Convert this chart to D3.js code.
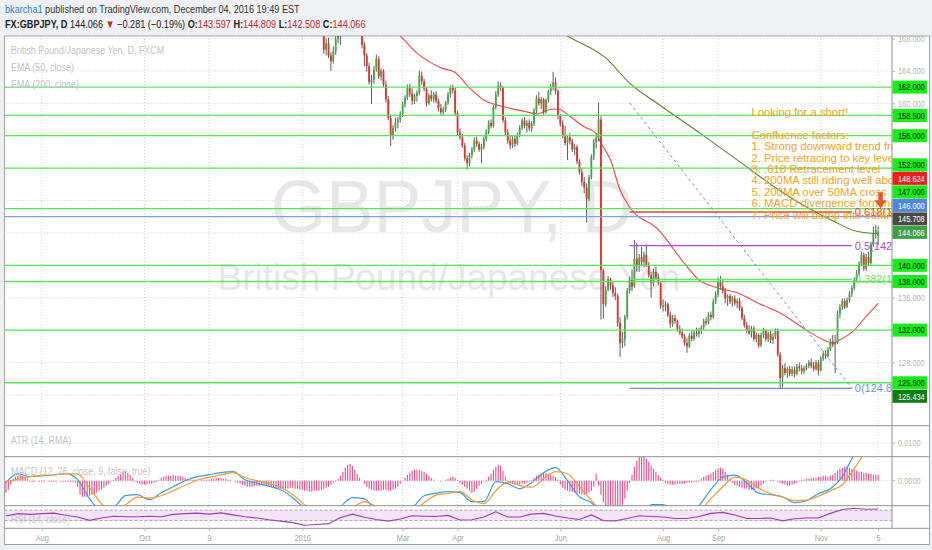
<!DOCTYPE html>
<html>
<head>
<meta charset="utf-8">
<script src="https://cdnjs.cloudflare.com/ajax/libs/d3/7.8.5/d3.min.js"></script>
<style>
  body { margin: 0; background: #eef0f4; }
  svg { display: block; }
  text { font-family: "Liberation Sans", Arial, sans-serif; white-space: pre; }
</style>
</head>
<body>
<svg id="chart" width="932" height="550"></svg>
<script>
// ---- data ----
// daily GBPJPY bars from 2016-01-13 to 2016-12-05
const candleStart = '2016-01-13';
const opens = [
  171.0,170.2,166.6,167.4,165.9,165.2,166.4,167.9,168.9,169.1,
  169.7,169.2,169.5,172.5,172.2,170.9,169.9,169.0,167.2,165.9,
  164.6,162.6,162.9,164.2,165.5,163.3,164.0,162.3,160.5,158.2,
  156.0,157.0,157.6,158.0,158.7,159.9,160.7,161.9,161.2,160.3,
  160.9,161.3,163.4,162.7,161.8,160.0,161.0,160.5,161.1,160.3,
  159.4,158.9,159.2,160.1,161.1,161.9,161.6,158.8,156.4,155.8,
  154.8,153.2,152.6,153.6,154.3,155.4,155.0,154.3,154.6,155.6,
  156.5,157.6,157.2,159.5,161.1,162.2,161.9,157.9,156.4,155.4,
  154.8,155.6,155.0,156.1,157.0,157.9,157.2,157.6,156.9,157.5,
  159.1,160.6,160.0,160.5,158.9,160.4,161.5,162.0,162.6,161.5,
  158.4,157.4,156.1,155.1,155.8,155.3,154.3,154.6,152.8,151.5,
  150.3,149.6,148.2,150.9,153.4,155.2,155.8,158.0,139.4,135.2,
  137.0,138.3,137.5,136.6,136.2,132.9,130.4,130.9,133.6,136.9,
  138.2,137.4,140.8,140.0,141.0,140.4,141.3,140.0,138.8,137.8,
  139.2,138.5,137.8,135.0,134.9,135.2,133.9,132.8,133.5,133.1,
  132.1,131.7,131.2,130.4,130.0,131.3,130.9,131.7,131.5,132.0,
  132.3,133.1,132.9,133.9,133.6,135.5,136.4,138.0,137.4,136.8,
  135.9,136.2,135.5,135.9,135.3,135.6,134.7,133.5,132.6,132.0,
  131.6,132.2,130.9,131.4,130.1,131.4,131.9,130.9,131.5,130.8,
  131.2,131.9,129.0,126.1,127.3,126.7,127.2,126.6,127.1,126.6,
  127.5,127.3,126.9,127.3,127.6,128.0,127.6,127.2,128.0,127.0,
  128.5,129.1,128.8,129.6,130.6,130.2,130.5,134.0,134.8,135.6,
  134.9,135.7,136.5,137.2,138.2,139.0,140.2,141.3,139.6,141.0,
  140.3,142.6,143.9,143.597
];
const highs = [
  171.5,170.6,168.0,168.1,166.3,167.0,168.3,169.5,169.8,170.1,
  170.3,170.0,173.5,173.2,172.4,171.2,170.4,169.3,167.6,166.2,
  165.0,163.5,164.6,166.0,165.8,164.3,164.2,162.8,160.9,158.6,
  157.3,158.2,158.3,159.0,160.2,161.0,162.3,162.4,161.8,161.2,
  161.6,164.0,163.9,163.0,162.0,161.2,161.6,161.4,161.5,160.6,
  159.9,159.6,160.3,161.4,162.2,162.3,161.9,159.1,156.9,156.2,
  155.1,153.6,153.9,154.6,155.8,155.9,155.3,155.0,155.9,156.8,
  157.9,158.0,159.8,161.5,162.7,162.6,162.1,158.3,156.8,156.1,
  155.9,156.0,156.4,157.3,158.2,158.3,157.9,158.0,157.8,159.4,
  161.0,161.4,160.8,160.7,160.6,161.7,162.4,163.9,163.2,161.7,
  158.7,157.9,157.2,156.1,156.3,155.6,155.0,154.9,153.1,152.0,
  150.9,150.1,151.2,153.7,155.6,156.2,160.1,158.4,139.6,137.4,
  138.7,138.5,138.0,137.3,136.5,133.6,131.8,133.9,137.2,138.6,
  139.5,143.1,142.8,141.4,142.3,141.7,142.6,140.4,139.2,139.6,
  139.8,139.0,138.1,135.8,135.6,135.4,134.3,133.9,133.9,133.3,
  132.6,132.2,131.5,131.0,131.6,131.9,132.0,132.3,132.3,132.6,
  133.4,133.6,134.2,134.3,135.9,136.8,138.5,138.7,138.2,137.2,
  136.4,136.5,136.2,136.3,135.9,136.0,135.0,133.9,133.0,132.6,
  132.5,132.5,131.7,131.6,131.7,132.3,132.1,131.8,131.9,131.6,
  132.2,132.2,129.3,127.7,127.9,127.5,127.6,127.5,127.5,127.8,
  128.0,127.7,127.6,127.9,128.3,128.5,128.1,128.3,128.3,128.8,
  129.4,129.5,129.9,130.9,131.4,131.4,134.4,135.2,135.9,135.9,
  136.0,136.8,137.5,138.5,139.4,140.5,141.7,141.6,141.4,141.7,
  142.9,144.8,145.0,144.809
];
const lows = [
  169.6,166.1,165.9,165.6,164.0,164.9,166.0,167.4,167.2,168.6,
  168.9,168.7,168.9,171.5,170.5,169.3,168.6,166.8,164.6,163.9,
  162.3,159.9,162.4,163.9,163.0,162.8,162.0,160.1,157.9,154.7,
  155.5,156.5,156.9,157.6,158.3,159.5,160.4,160.8,159.8,159.9,
  160.2,161.0,162.3,161.5,159.6,159.8,160.2,160.1,160.0,159.0,
  158.6,158.5,158.9,159.8,160.7,161.2,158.5,156.0,155.5,154.5,
  152.9,151.8,152.2,153.2,154.0,154.6,154.0,152.6,154.3,155.3,
  156.2,156.9,157.0,159.2,160.8,161.5,157.6,156.0,155.0,154.3,
  154.5,154.6,154.8,155.8,156.7,156.9,156.4,156.6,156.5,157.2,
  158.8,159.7,159.3,158.6,158.7,160.1,161.0,161.6,161.1,158.0,
  157.1,155.7,154.8,153.0,154.9,154.0,153.6,152.5,151.2,149.8,
  148.9,145.3,147.9,150.6,153.0,154.4,155.3,133.3,133.4,134.9,
  136.8,137.0,136.1,135.7,132.4,128.7,129.8,130.0,133.3,136.5,
  136.8,137.2,139.2,139.2,140.0,139.8,139.8,138.5,136.0,137.4,
  138.2,137.5,134.6,134.3,134.3,133.6,132.3,132.4,132.8,131.8,
  131.4,130.9,130.1,129.2,129.8,130.6,130.7,131.2,131.1,131.5,
  132.0,132.6,132.7,133.2,133.4,135.2,136.1,137.0,136.5,135.3,
  135.0,135.2,134.9,135.0,134.7,134.4,133.2,132.3,131.6,131.4,
  131.1,130.6,130.5,129.8,129.9,131.0,130.6,130.5,130.4,130.3,
  130.9,128.7,124.8,124.9,126.4,126.1,126.3,126.3,126.2,126.4,
  126.9,126.5,126.6,127.0,127.3,127.3,126.9,127.0,126.4,126.9,
  128.2,128.4,128.6,129.4,129.9,126.7,130.3,133.5,134.5,134.6,
  134.7,135.4,136.1,136.9,137.9,138.7,139.9,139.3,139.3,139.9,
  140.1,142.3,143.3,142.508
];
const closes = [
  170.2,166.6,167.4,165.9,165.2,166.4,167.9,168.9,169.1,169.7,
  169.2,169.5,172.5,172.2,170.9,169.9,169.0,167.2,165.9,164.6,
  162.6,162.9,164.2,165.5,163.3,164.0,162.3,160.5,158.2,156.0,
  157.0,157.6,158.0,158.7,159.9,160.7,161.9,161.2,160.3,160.9,
  161.3,163.4,162.7,161.8,160.0,161.0,160.5,161.1,160.3,159.4,
  158.9,159.2,160.1,161.1,161.9,161.6,158.8,156.4,155.8,154.8,
  153.2,152.6,153.6,154.3,155.4,155.0,154.3,154.6,155.6,156.5,
  157.6,157.2,159.5,161.1,162.2,161.9,157.9,156.4,155.4,154.8,
  155.6,155.0,156.1,157.0,157.9,157.2,157.6,156.9,157.5,159.1,
  160.6,160.0,160.5,158.9,160.4,161.5,162.0,162.6,161.5,158.4,
  157.4,156.1,155.1,155.8,155.3,154.3,154.6,152.8,151.5,150.3,
  149.6,148.2,150.9,153.4,155.2,155.8,158.0,139.4,135.2,137.0,
  138.3,137.5,136.6,136.2,132.9,130.4,130.9,133.6,136.9,138.2,
  137.4,140.8,140.0,141.0,140.4,141.3,140.0,138.8,137.8,139.2,
  138.5,137.8,135.0,134.9,135.2,133.9,132.8,133.5,133.1,132.1,
  131.7,131.2,130.4,130.0,131.3,130.9,131.7,131.5,132.0,132.3,
  133.1,132.9,133.9,133.6,135.5,136.4,138.0,137.4,136.8,135.9,
  136.2,135.5,135.9,135.3,135.6,134.7,133.5,132.6,132.0,131.6,
  132.2,130.9,131.4,130.1,131.4,131.9,130.9,131.5,130.8,131.2,
  131.9,129.0,126.1,127.3,126.7,127.2,126.6,127.1,126.6,127.5,
  127.3,126.9,127.3,127.6,128.0,127.6,127.2,128.0,127.0,128.5,
  129.1,128.8,129.6,130.6,130.2,130.5,134.0,134.8,135.6,134.9,
  135.7,136.5,137.2,138.2,139.0,140.2,141.3,139.6,141.0,140.3,
  142.6,143.9,144.347,144.066
];

// moving averages, sampled (bar number counted in trading days from 2016-01-01)
const ema50Bars = [38,41,48,58,64,70,76,84,93,98,105,108,112,118,123,125,129,133,137,149,160,166,174,183,191,200,211,218,222,225,231,236,241];
const ema50 = [169.0,168.3,166.2,164.4,163.8,161.9,160.4,159.6,159.0,158.7,159.3,159.2,158.4,157.1,156.3,155.1,153.0,149.3,147.2,144.4,140.2,138.2,137.2,136.5,135.3,134.1,132.0,130.8,130.4,130.8,132.0,133.7,135.3];
const ema200Bars = [105,111,127,137,150,167,183,197,211,222,232,241];
const ema200 = [169.4,168.3,165.6,162.5,159.7,156.2,152.8,149.8,147.2,145.5,144.2,143.9];

// indicator panes, starting 2015-07-13
const indicatorStart = '2015-07-13';
const macdHist = [
  -12,-9,-4,2,4,5,6,5,4,2,
  -1,-1,-1,0,-1,-1,-1,0,-1,-1,-1,-1,0,-1,-1,-1,-1,-1,-1,-2,
  -6,-14,-16,-16,-16,-15,-14,-13,-12,-10,-9,-7,-5,
  -3,-1,1,
  3,5,7,9,9,8,6,3,
  -1,-2,-3,-4,-4,-4,-3,-3,-2,-1,
  1,3,4,5,5,5,6,5,5,5,4,3,2,
  1,1,1,0,0,1,1,1,
  1,2,2,3,3,3,2,2,1,1,0,
  -1,-2,-3,-4,-5,-6,-6,-6,-5,-5,-5,-4,-4,-5,
  -5,-6,-7,-8,-8,-8,-9,-8,-8,-7,-7,-8,-8,-9,
  -9,-10,-10,-11,-11,-10,-10,-10,-9,-8,-7,-6,-4,-2,
  -1,2,5,9,13,16,17,15,11,7,
  3,0,-3,-6,
  -8,-9,-10,-10,-10,-10,-9,-9,-10,-10,-9,-8,-6,-3,
  0,3,6,8,10,11,11,11,10,9,7,5,3,1,
  0,0,-1,0,1,
  2,3,4,3,1,
  -2,-4,-6,-8,
  -10,-12,-11,-8,
  -5,-3,-1,1,
  4,7,11,14,16,15,10,
  4,-1,-2,-3,-4,-4,-4,-3,-3,-2,-1,
  1,3,5,6,7,8,8,7,6,5,4,
  1,-4,-7,-9,-10,-11,-11,-12,-12,-13,-14,-14,-13,-12,-10,-6,
  7,
  -5,-14,-22,-27,-30,-30,-30,-29,-28,-27,-24,-18,-10,
  -2,6,14,20,24,26,25,22,19,15,12,9,6,3,1,
  -2,-3,-4,-4,-4,-3,-3,-3,-3,-2,-2,-2,-1,-1,
  1,2,4,5,6,7,9,11,12,13,12,9,6,2,
  -2,-4,-5,-6,-7,-8,-8,-9,-9,-9,-8,-7,-5,-3,-1,
  0,1,1,0,-1,-2,-3,
  -4,-5,-5,-4,-3,-2,-1,
  1,1,2,2,3,3,3,4,4,5,5,4,5,6,
  8,10,12,13,14,14,13,12,11,10,9,
  9,8,8,7,7,6,6,6
];
// lines read every 5th bar
const lineStep = 5;
const macdLine = [-2,7,4,4.7,5.7,7,1,-18,-30,-27,-15,-14,-19,-12,-6,0,4,6,8,9,
  1,-2.5,-5.5,-9,-17,-28,-40,-38,-26,-17,-18,-32,-40,-38,-28,-15,-12.5,-11,-12,-21,
  -21,-1,-3,-8,-2,8,13,0,-16,-22,-35,-50,-55,-50,-24,-24,-32,-34,-25,-9,
  3.5,5.5,-2,-12.5,-14,-16,-22,-20,-13,-8,4,26,40,50];
const signalLine = [-1,1.5,4,5.3,6,7,6.5,-7,-23,-30,-24,-16.5,-17.5,-15,-10,-4.5,0.5,3.3,5.8,8,
  3,0,-3,-6.5,-14,-24,-33,-36,-33,-27,-21,-26,-33,-36,-32,-22,-14.5,-12.8,-11,-19,
  -23,-10,-1.5,-4.8,-6.5,2,9,7,-6,-20,-32,-42,-48,-45,-35,-25,-26,-32,-30,-18,
  -6,3.5,0.7,-7.5,-13,-16.5,-20,-19.5,-15.5,-10,-4,12,30,42];
const rsi = [48,57,54,57,59,51,44,31,40,47,45,45,47,45,54,57,59,55,60,52,
  45,40,33,28,22,12,15,18,42,55,43,34,28,36,49,47,46,50,32,33,
  44,64,44,44,55,58,48,40,34,52,30,29,38,49,46,44,38,38,46,58,
  62,52,38,38,40,29,37,40,40,58,73,78,74,75];

// drawings
const supportLevels = [162, 158.5, 156, 152, 147, 140, 138, 132, 125.5];
const blueLevel = 146;
const fibHigh = 160.05, fibLow = 124.80;
const fibFrom = '2016-07-12', fibTo = '2016-11-18';
const fibLevels = [0, 0.382, 0.5, 0.618];
const extraLabels = [148.624, 145.708, 125.434];
const noteDate = '2016-09-21', notePrice = 158.93;
const noteLines = ['Looking for a short!', '', 'Confluence factors:',
  '1. Strong downward trend from', '2. Price retracing to key level',
  '3. .618 Retracement level', '4. 200MA still riding well above',
  '5. 200MA over 50MA cross', '6. MACD divergence forming',
  '7. Price will bump into 50MA'];
const arrowDate = '2016-12-06', arrowPrice = 147.05;

const priceTicks = [124, 128, 132, 136, 140, 144, 148, 152, 156, 160, 164, 168];
const timeTickDates = ['2015-08-03','2015-10-01','2015-11-09','2016-01-01','2016-03-01','2016-04-01','2016-06-01','2016-08-01','2016-09-01','2016-11-01','2016-12-05'];
const timeTickLabels = ['Aug','Oct','9','2016','Mar','Apr','Jun','Aug','Sep','Nov','5'];

// ---- trading-day calendar ----
const parse = d3.timeParse('%Y-%m-%d');
const days = d3.timeDay.range(parse('2015-07-13'), parse('2016-12-10')).filter(d => d.getDay() % 6 !== 0);
const dayPos = new Map(days.map((d, i) => [+d, i]));
const origin = dayPos.get(+parse('2016-01-01'));
const barOf = s => dayPos.get(+parse(s)) - origin;

// ---- layout ----
const L = 4.5, R = 892, RA = 929.5;
const mainTop = 36, mainBot = 425.7, atrBot = 456.7, macdBot = 505.7, rsiBot = 528.3, axisBot = 544.5;

const x = d3.scaleLinear().domain([-124.6, 246.8]).range([L, R]);
const y = d3.scaleLinear().domain([120.2, 168.31]).range([mainBot, mainTop]);
const yAtr = d3.scaleLinear().domain([0.0065, 0.0145]).range([atrBot, mainBot]);
const yMacd = d3.scaleLinear().domain([-25, 24]).range([macdBot, atrBot]);
const yRsi = d3.scaleLinear().domain([0, 87.8]).range([rsiBot, macdBot]);

const svg = d3.select('#chart');
// narrow the UI font horizontally (scales about the text's x)
const squeeze = (sel, k) => sel.each(function () {
  const xx = +this.getAttribute('x') || 0;
  this.setAttribute('transform', `translate(${xx},0) scale(${k},1) translate(${-xx},0)`);
});

const defs = svg.append('defs');
[['clipMain', mainTop, mainBot], ['clipMacd', atrBot, macdBot], ['clipRsi', macdBot, rsiBot]].forEach(([id, t, b]) => {
  defs.append('clipPath').attr('id', id).append('rect').attr('x', L).attr('y', t).attr('width', R - L).attr('height', b - t);
});

// frame
svg.append('rect').attr('x', L).attr('y', mainTop).attr('width', RA - L).attr('height', axisBot - mainTop)
  .attr('fill', '#fff').attr('stroke', '#a3a3a3');

// header
const fitLine = (t, width) => squeeze(t, width / t.node().getComputedTextLength());
const h1 = svg.append('text').attr('x', 5).attr('y', 13.5).attr('font-size', 11.5).attr('fill', '#333');
h1.append('tspan').attr('fill', '#1f86c6').text('bkarcha1');
h1.append('tspan').text(' published on TradingView.com, December 04, 2016 19:49 EST');
fitLine(h1, 295);

const n = closes.length - 1;
const chg = closes[n] - closes[n - 1];
const f3 = d3.format('.3f');
const h2 = svg.append('text').attr('x', 5).attr('y', 28.5).attr('font-size', 11.5).attr('fill', '#222');
h2.append('tspan').attr('font-weight', 'bold').text('FX:GBPJPY, D');
h2.append('tspan').text(' ' + f3(closes[n]) + ' ');
h2.append('tspan').attr('fill', '#c62828').text(chg < 0 ? '▼' : '▲');
h2.append('tspan').text(' ' + d3.format('.3f')(chg) + ' (' + d3.format('.2f')(chg / closes[n - 1] * 100) + '%) ');
[['O:', opens[n]], [' H:', highs[n]], [' L:', lows[n]], [' C:', closes[n]]].forEach(([k, v]) => {
  h2.append('tspan').attr('font-weight', 'bold').text(k);
  h2.append('tspan').attr('fill', '#c62828').text(f3(v));
});
fitLine(h2, 361);

// grid
const tickBars = timeTickDates.map(barOf);
svg.append('g').selectAll('line').data(tickBars).join('line')
  .attr('x1', d => x(d)).attr('x2', d => x(d)).attr('y1', mainTop).attr('y2', rsiBot)
  .attr('stroke', '#cfcfcf').attr('stroke-dasharray', '1,2');
svg.append('g').selectAll('line').data(priceTicks.filter(p => y(p) > mainTop + 2)).join('line')
  .attr('x1', L).attr('x2', R).attr('y1', d => y(d)).attr('y2', d => y(d))
  .attr('stroke', '#cfcfcf').attr('stroke-dasharray', '1,2');
svg.append('line').attr('x1', L).attr('x2', R).attr('y1', yAtr(0.01)).attr('y2', yAtr(0.01))
  .attr('stroke', '#cfcfcf').attr('stroke-dasharray', '1,2');
svg.append('line').attr('x1', L).attr('x2', R).attr('y1', yMacd(0)).attr('y2', yMacd(0))
  .attr('stroke', '#cfcfcf').attr('stroke-dasharray', '1,2');

// main pane
const main = svg.append('g').attr('clip-path', 'url(#clipMain)');
main.append('text').attr('x', 452).attr('y', 232).attr('text-anchor', 'middle')
  .attr('font-size', 74).attr('fill', '#e7e7e7').attr('textLength', 362).attr('lengthAdjust', 'spacingAndGlyphs')
  .text('GBPJPY, D');
main.append('text').attr('x', 449).attr('y', 290).attr('text-anchor', 'middle')
  .attr('font-size', 37).attr('fill', '#e7e7e7').text('British Pound/Japanese Yen');

// legend
const legend = svg.append('g').attr('font-size', 10.5).attr('fill', '#c4c4c4');
legend.selectAll('text').data(['British Pound/Japanese Yen, D, FXCM', 'EMA (50, close)', 'EMA (200, close)']).join('text')
  .attr('x', 11).attr('y', (d, i) => 54.5 + i * 16.8).text(d => d).call(squeeze, 0.85);

// EMAs
const emaLine = d3.line().x(d => x(d[0])).y(d => y(d[1])).curve(d3.curveMonotoneX);
main.append('path').attr('d', emaLine(ema200Bars.map((b, i) => [b, ema200[i]])))
  .attr('fill', 'none').attr('stroke', '#5d7f2c').attr('stroke-width', 1.1);
main.append('path').attr('d', emaLine(ema50Bars.map((b, i) => [b, ema50[i]])))
  .attr('fill', 'none').attr('stroke', '#ec4b40').attr('stroke-width', 1.1);

// candles
const c0 = barOf(candleStart);
const bars = closes.map((c, k) => ({ i: c0 + k, o: opens[k], h: highs[k], l: lows[k], c }));
main.append('g').selectAll('line').data(bars).join('line')
  .attr('x1', d => x(d.i)).attr('x2', d => x(d.i)).attr('y1', d => y(d.h)).attr('y2', d => y(d.l))
  .attr('stroke', '#5c5c5c').attr('stroke-width', 1);
main.append('g').selectAll('rect').data(bars).join('rect')
  .attr('x', d => x(d.i) - 0.9).attr('width', 1.8)
  .attr('y', d => y(Math.max(d.o, d.c)))
  .attr('height', d => Math.max(0.8, Math.abs(y(d.o) - y(d.c))))
  .attr('fill', d => d.c >= d.o ? '#44a544' : '#e2302a');

// horizontal levels
main.append('g').selectAll('line').data(supportLevels).join('line')
  .attr('x1', L).attr('x2', R).attr('y1', d => y(d)).attr('y2', d => y(d))
  .attr('stroke', '#5ce35c').attr('stroke-width', 1.3);
main.append('line').attr('x1', L).attr('x2', R).attr('y1', y(blueLevel)).attr('y2', y(blueLevel))
  .attr('stroke', '#7f9fe2').attr('stroke-width', 1.3);

// fibonacci retracement
const fibColor = { 0: '#6f8fdc', 0.382: '#6adf6a', 0.5: '#a64fd8', 0.618: '#e8413a' };
const fx1 = x(barOf(fibFrom)), fx2 = x(barOf(fibTo));
const fibPrice = lvl => fibLow + lvl * (fibHigh - fibLow);
main.append('line').attr('x1', fx1).attr('y1', y(fibHigh)).attr('x2', fx2).attr('y2', y(fibLow))
  .attr('stroke', '#6f8fdc').attr('stroke-dasharray', '3,3');
main.append('g').selectAll('line').data(fibLevels).join('line')
  .attr('x1', fx1).attr('x2', fx2).attr('y1', d => y(fibPrice(d))).attr('y2', d => y(fibPrice(d)))
  .attr('stroke', d => fibColor[d]).attr('stroke-width', 1.3);
main.append('g').selectAll('text').data(fibLevels).join('text')
  .attr('x', fx2 + 3).attr('y', d => y(fibPrice(d))).attr('dy', '0.35em')
  .attr('font-size', 11).attr('fill', d => fibColor[d])
  .text(d => d + '(' + f3(fibPrice(d)) + ')');

// note text
const nx = x(barOf(noteDate)), ny = y(notePrice);
main.append('g').selectAll('text').data(noteLines).join('text')
  .attr('x', nx).attr('y', (d, i) => ny + i * 11.4).attr('dy', '0.35em')
  .attr('font-size', 11.3).attr('fill', '#f4a325').text(d => d);

// arrow
const ax = x(barOf(arrowDate)), ay = y(arrowPrice);
main.append('path')
  .attr('d', `M${ax},${ay} L${ax - 6},${ay - 8} L${ax - 2.3},${ay - 8} L${ax - 2.3},${ay - 16} L${ax + 2.3},${ay - 16} L${ax + 2.3},${ay - 8} L${ax + 6},${ay - 8} Z`)
  .attr('fill', '#e35a2f');

// ATR pane title
svg.append('text').attr('x', 11).attr('y', 444.5).attr('font-size', 10.5).attr('fill', '#c4c4c4')
  .text('ATR (14, RMA)').call(squeeze, 0.85);

// MACD pane
const i0 = barOf(indicatorStart);
const macdG = svg.append('g').attr('clip-path', 'url(#clipMacd)');
macdG.selectAll('line').data(macdHist).join('line')
  .attr('x1', (d, k) => x(i0 + k)).attr('x2', (d, k) => x(i0 + k))
  .attr('y1', yMacd(0)).attr('y2', d => yMacd(d))
  .attr('stroke', '#ec4a8c').attr('stroke-width', 1.1);
const indLine = d3.line().x((d, k) => x(i0 + k * lineStep)).y(d => d).curve(d3.curveMonotoneX);
macdG.append('path').attr('d', indLine(macdLine.map(v => yMacd(v))))
  .attr('fill', 'none').attr('stroke', '#3b9be0').attr('stroke-width', 1.2);
macdG.append('path').attr('d', indLine(signalLine.map(v => yMacd(v))))
  .attr('fill', 'none').attr('stroke', '#f39a37').attr('stroke-width', 1.2);
svg.append('text').attr('x', 11).attr('y', 475).attr('font-size', 10.5).attr('fill', '#c4c4c4')
  .text('MACD (12, 26, close, 9, false, true)').call(squeeze, 0.85);

// RSI pane
const rsiG = svg.append('g').attr('clip-path', 'url(#clipRsi)');
rsiG.append('rect').attr('x', L).attr('width', R - L).attr('y', yRsi(70)).attr('height', yRsi(30) - yRsi(70))
  .attr('fill', '#f3e4f7');
[70, 30].forEach(v => rsiG.append('line').attr('x1', L).attr('x2', R).attr('y1', yRsi(v)).attr('y2', yRsi(v))
  .attr('stroke', '#a9a9a9').attr('stroke-dasharray', '3,2'));
rsiG.append('path').attr('d', d3.line().x((d, k) => x(i0 + k * lineStep)).y(d => yRsi(d))(rsi))
  .attr('fill', 'none').attr('stroke', '#9b3fb5').attr('stroke-width', 1.1);
svg.append('text').attr('x', 11).attr('y', 523).attr('font-size', 10.5).attr('fill', '#c8c8c8')
  .text('RSI (14, close)').call(squeeze, 0.85);

// pane separators
[mainBot, atrBot, macdBot, rsiBot].forEach(v => svg.append('line')
  .attr('x1', L).attr('x2', RA).attr('y1', v).attr('y2', v).attr('stroke', '#8f8f8f'));
svg.append('line').attr('x1', R).attr('x2', R).attr('y1', mainTop).attr('y2', rsiBot).attr('stroke', '#8f8f8f');

// price axis
const pAxis = svg.append('g').attr('transform', `translate(${R},0)`)
  .call(d3.axisRight(y).tickValues(priceTicks.filter(p => y(p) > mainTop)).tickFormat(f3).tickSize(3).tickPadding(3));
pAxis.select('.domain').remove();
pAxis.selectAll('line').attr('stroke', '#b8b8b8');
pAxis.selectAll('text').attr('fill', '#b5b5b5').attr('font-size', 9.5).call(squeeze, 0.78);

[[yAtr, 0.01], [yMacd, 0]].forEach(([sc, v]) => {
  svg.append('line').attr('x1', R).attr('x2', R + 3).attr('y1', sc(v)).attr('y2', sc(v)).attr('stroke', '#b8b8b8');
  svg.append('text').attr('x', R + 6).attr('y', sc(v)).attr('dy', '0.35em').attr('font-size', 9.5)
    .attr('fill', '#b5b5b5').text(d3.format('.4f')(v)).call(squeeze, 0.78);
});

// coloured price labels with simple collision handling
const labelStyle = v => {
  if (v === closes[n]) return ['#3f9e46', '#fff'];
  if (v === blueLevel) return ['#4f86e0', '#fff'];
  if (v === extraLabels[0]) return ['#f21d1d', '#fff'];
  if (v === extraLabels[1]) return ['#4a4a4a', '#fff'];
  if (v === extraLabels[2]) return ['#107c10', '#fff'];
  return ['#14f014', '#000'];
};
const lbls = [...supportLevels, blueLevel, ...extraLabels, closes[n]].sort((a, b) => b - a)
  .map(v => ({ v, y: y(v) }));
const ai = lbls.findIndex(d => d.v === closes[n]);
for (let k = ai - 1; k >= 0; k--) lbls[k].y = Math.min(lbls[k].y, lbls[k + 1].y - 13.5);
for (let k = ai + 1; k < lbls.length; k++) lbls[k].y = Math.max(lbls[k].y, lbls[k - 1].y + 13.5);
const lg = svg.append('g').selectAll('g').data(lbls).join('g').attr('transform', d => `translate(${R},${d.y})`);
lg.append('rect').attr('x', 0.5).attr('y', -6.5).attr('width', 34.5).attr('height', 13)
  .attr('fill', d => labelStyle(d.v)[0]);
lg.append('text').attr('x', 6).attr('dy', '0.35em').attr('font-size', 9.5)
  .attr('fill', d => labelStyle(d.v)[1]).text(d => f3(d.v)).call(squeeze, 0.78);

// time axis
const tAxis = svg.append('g').attr('transform', `translate(0,${rsiBot})`)
  .call(d3.axisBottom(x).tickValues(tickBars).tickFormat((d, k) => timeTickLabels[k]).tickSize(3).tickPadding(3));
tAxis.select('.domain').remove();
tAxis.selectAll('line').attr('stroke', '#b8b8b8');
tAxis.selectAll('text').attr('fill', '#a5a5a5').attr('font-size', 9.5).call(squeeze, 0.78);
</script>
</body>
</html>
